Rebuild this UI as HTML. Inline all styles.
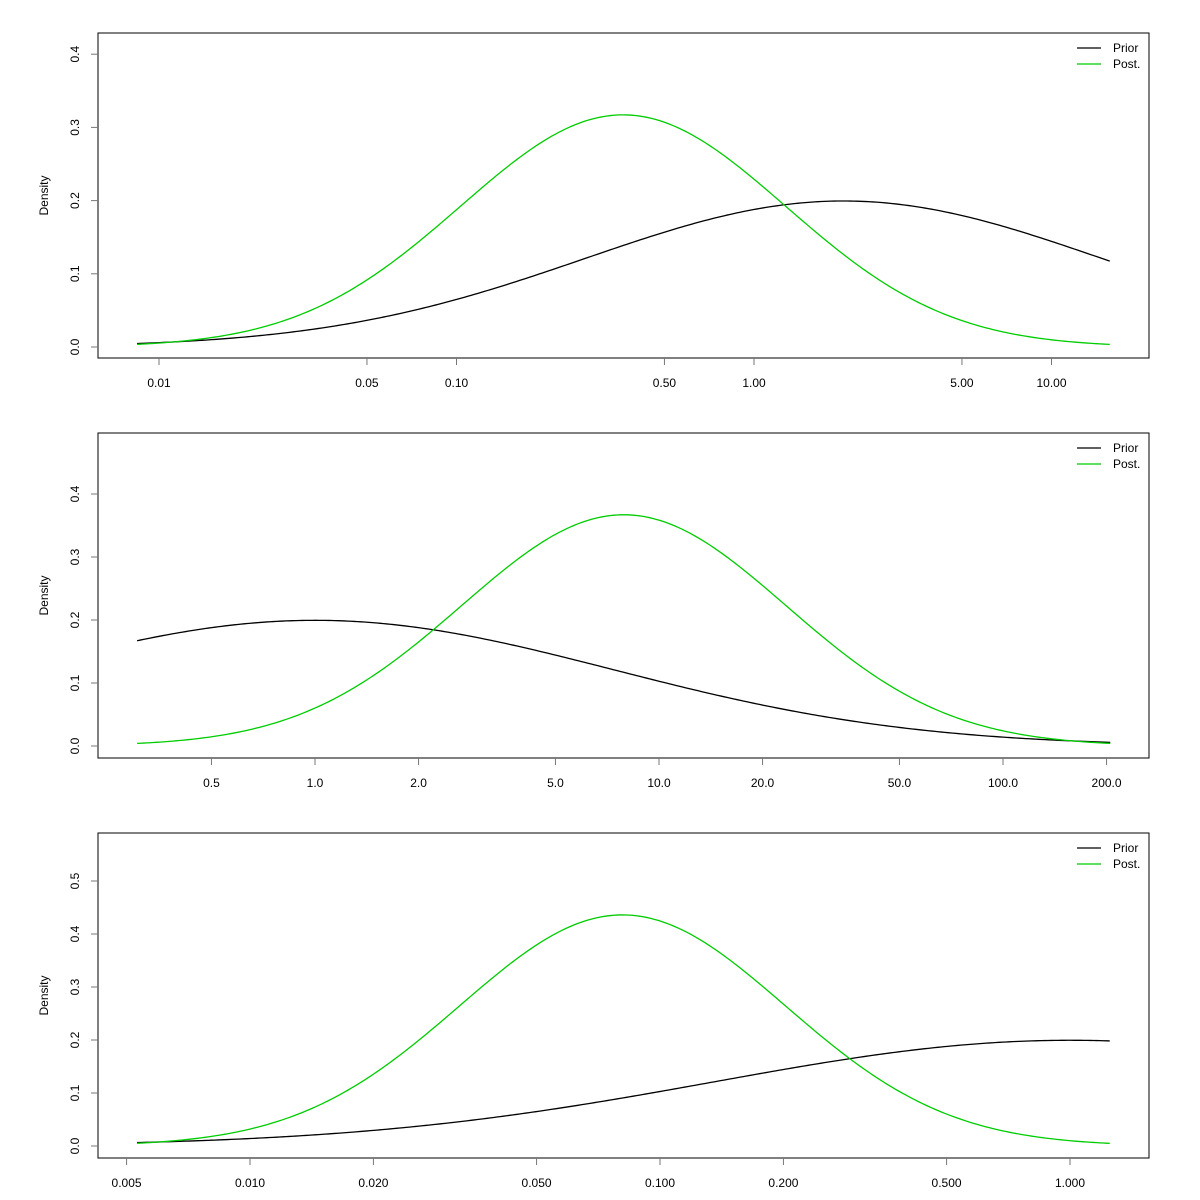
<!DOCTYPE html>
<html><head><meta charset="utf-8"><style>
html,body{margin:0;padding:0;background:#fff;}
svg{display:block;font-family:"Liberation Sans",Arial,sans-serif;}
</style></head><body>
<svg id="chart" width="1200" height="1200" viewBox="0 0 1200 1200" xmlns="http://www.w3.org/2000/svg"></svg>
<script>
// Distribution parameters (lognormal: mean of ln x, sd of ln x) per panel
const priorMeans = [2, 1, 1];
const priorSds = [2, 2, 2];
const postMeans = [0.363, 7.9, 0.081];
const postSds = [1.258, 1.087, 0.915];
const xRangeMin = [0.00844, 0.304, 0.0053];
const xRangeMax = [15.7, 205, 1.25];
const xTickValues = [
  [0.01, 0.05, 0.10, 0.50, 1.00, 5.00, 10.00],
  [0.5, 1, 2, 5, 10, 20, 50, 100, 200],
  [0.005, 0.01, 0.02, 0.05, 0.1, 0.2, 0.5, 1]
];
const xTickLabels = [
  ["0.01","0.05","0.10","0.50","1.00","5.00","10.00"],
  ["0.5","1.0","2.0","5.0","10.0","20.0","50.0","100.0","200.0"],
  ["0.005","0.010","0.020","0.050","0.100","0.200","0.500","1.000"]
];
const yTickValues = [
  [0,0.1,0.2,0.3,0.4],
  [0,0.1,0.2,0.3,0.4],
  [0,0.1,0.2,0.3,0.4,0.5]
];
const yTickLabels = [
  ["0.0","0.1","0.2","0.3","0.4"],
  ["0.0","0.1","0.2","0.3","0.4"],
  ["0.0","0.1","0.2","0.3","0.4","0.5"]
];

const layout = [
  {top:33, bottom:358, y0:347, yPer:732, xRef:0.01, xRefPx:159, decPx:297.5},
  {top:433, bottom:758, y0:746, yPer:630, xRef:1, xRefPx:315, decPx:344},
  {top:833, bottom:1158, y0:1146, yPer:530, xRef:0.01, xRefPx:250, decPx:410}
];
const boxL = 98, boxR = 1149;
const NS = "http://www.w3.org/2000/svg";
const svg = document.getElementById('chart');
function mk(tag, attrs, parent){
  const e = document.createElementNS(NS, tag);
  for (const k in attrs) e.setAttribute(k, attrs[k]);
  (parent||svg).appendChild(e);
  return e;
}
function dens(x, m, s){
  const z = (Math.log(x) - Math.log(m)) / s;
  return Math.exp(-0.5*z*z) / (s*Math.sqrt(2*Math.PI));
}
for (let p = 0; p < 3; p++){
  const L = layout[p];
  const xs = v => L.xRefPx + (Math.log10(v) - Math.log10(L.xRef)) * L.decPx;
  const ys = v => L.y0 - v * L.yPer;
  const g = mk('g', {});
  
  
  const box = mk('rect', {x:boxL, y:L.top, width:boxR-boxL, height:L.bottom-L.top, fill:'none', stroke:'#000', 'stroke-width':1}, g);
  
  
  const ya = mk('g', {}, g);
  
  
  yTickValues[p].forEach((v, i) => {
    const y = ys(v);
    mk('line', {x1:boxL-7, x2:boxL, y1:y, y2:y, stroke:'#777', 'stroke-width':1}, ya);
    const t = mk('text', {x:0, y:0, 'font-size':12, 'text-anchor':'middle', transform:`translate(79 ${y}) rotate(-90)`}, ya);
    
    
    t.textContent = yTickLabels[p][i];
  });
  const yt = mk('text', {x:0, y:0, 'font-size':12, 'text-anchor':'middle', transform:`translate(48 ${(L.top+L.bottom)/2}) rotate(-90)`}, g);
  
  
  yt.textContent = 'Density';
  const xa = mk('g', {}, g);
  
  
  xTickValues[p].forEach((v, i) => {
    const x = xs(v);
    mk('line', {x1:x, x2:x, y1:L.bottom, y2:L.bottom+7, stroke:'#777', 'stroke-width':1}, xa);
    const t = mk('text', {x:x, y:L.bottom+29, 'font-size':12, 'text-anchor':'middle'}, xa);
    
    
    t.textContent = xTickLabels[p][i];
  });
  const lo = Math.log10(xRangeMin[p]), hi = Math.log10(xRangeMax[p]);
  function curve(m, s, col, name){
    let d = '';
    for (let k = 0; k <= 300; k++){
      const xv = Math.pow(10, lo + (hi-lo)*k/300);
      d += (k ? 'L' : 'M') + xs(xv).toFixed(2) + ' ' + ys(dens(xv, m, s)).toFixed(2);
    }
    const path = mk('path', {d:d, fill:'none', stroke:col, 'stroke-width':1.3}, g);
    
    
  }
  curve(priorMeans[p], priorSds[p], '#000', 'prior-curve');
  curve(postMeans[p], postSds[p], '#00cd00', 'posterior-curve');
  const lg = mk('g', {}, g);
  
  
  [['Prior','#000'],['Post.','#00cd00']].forEach((e, i) => {
    const y = L.top + 15 + i*16;
    mk('line', {x1:1077, x2:1101, y1:y, y2:y, stroke:e[1], 'stroke-width':1.3}, lg);
    const t = mk('text', {x:1113, y:y+4, 'font-size':12}, lg);
    
    
    t.textContent = e[0];
  });
}
</script>
</body></html>
